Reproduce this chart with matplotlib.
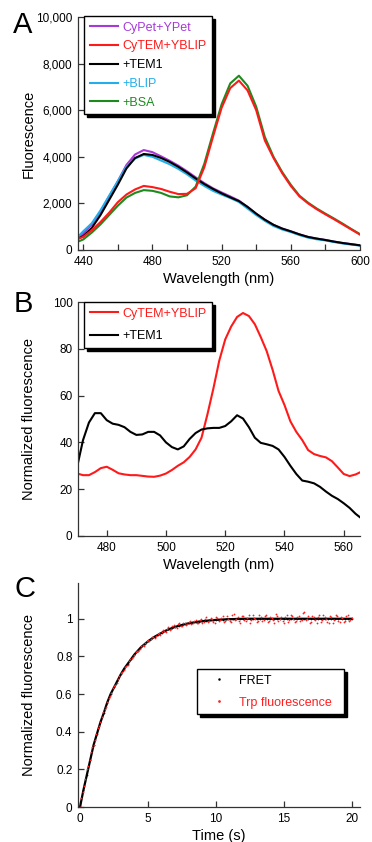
import matplotlib
matplotlib.use("Agg")
import matplotlib.pyplot as plt
import numpy as np
from matplotlib.ticker import FuncFormatter, MultipleLocator

plt.rcParams['font.family'] = ['Liberation Sans', 'DejaVu Sans']

# ---- panel A: emission spectra ----
wl_a = [437, 440, 445, 450, 455, 460, 465, 470, 475, 480, 485, 490, 495, 500,
        505, 510, 515, 520, 525, 530, 535, 540, 545, 550, 555, 560, 565, 570,
        575, 580, 585, 590, 595, 600]
cypet_ypet = [520, 720, 1100, 1650, 2300, 2950, 3650, 4100, 4290, 4200, 4020,
              3830, 3620, 3380, 3120, 2870, 2650, 2470, 2300, 2120, 1850, 1550,
              1300, 1080, 920, 800, 670, 560, 490, 430, 360, 300, 250, 200]
cytem_yblip = [480, 560, 850, 1200, 1600, 2050, 2380, 2600, 2750, 2700, 2620,
               2500, 2400, 2410, 2650, 3550, 4850, 6100, 6950, 7270, 6850, 6000,
               4700, 3950, 3300, 2750, 2300, 2000, 1750, 1530, 1320, 1100, 880, 660]
tem1 = [480, 600, 950, 1500, 2150, 2800, 3500, 3950, 4120, 4080, 3950, 3780,
        3570, 3330, 3070, 2830, 2620, 2430, 2260, 2100, 1850, 1560, 1300, 1080,
        920, 800, 670, 560, 490, 430, 360, 300, 250, 200]
blip = [570, 800, 1150, 1700, 2330, 2950, 3580, 3930, 4080, 4000, 3840, 3680,
        3480, 3250, 2980, 2750, 2540, 2380, 2230, 2060, 1780, 1500, 1250, 1030,
        880, 770, 640, 530, 460, 410, 340, 280, 230, 190]
bsa = [360, 450, 750, 1100, 1500, 1900, 2250, 2450, 2570, 2540, 2450, 2300,
       2260, 2350, 2720, 3700, 5000, 6250, 7150, 7480, 7050, 6150, 4850, 4000,
       3350, 2800, 2330, 2030, 1780, 1560, 1350, 1130, 900, 680]

# ---- panel B: normalized spectra ----
wl_b = [470, 472, 474, 476, 478, 480, 482, 484, 486, 488, 490, 492, 494, 496,
        498, 500, 502, 504, 506, 508, 510, 512, 514, 516, 518, 520, 522, 524,
        526, 528, 530, 532, 534, 536, 538, 540, 542, 544, 546, 548, 550, 552,
        554, 556, 558, 560, 562, 564, 566]
norm_cytem = [26.7, 26.0, 26.0, 27.3, 29.0, 29.6, 28.3, 26.8, 26.3, 26.0, 26.0,
              25.7, 25.4, 25.3, 25.8, 26.7, 28.2, 30.0, 31.5, 33.8, 37.0, 42.0,
              52.0, 63.0, 75.0, 84.0, 89.5, 93.6, 95.3, 94.0, 90.5, 85.0, 79.0,
              71.0, 62.0, 56.0, 49.0, 44.5, 41.0, 36.7, 35.0, 34.2, 33.6, 32.0,
              29.3, 26.5, 25.6, 26.3, 27.5]
norm_tem1 = [29.5, 41.0, 48.5, 52.5, 52.5, 49.5, 48.0, 47.5, 46.5, 44.5, 43.2,
             43.4, 44.5, 44.5, 43.0, 40.0, 38.0, 37.0, 38.3, 41.5, 44.0, 45.5,
             46.0, 46.2, 46.2, 47.0, 49.0, 51.6, 50.2, 46.5, 42.0, 39.8, 39.2,
             38.5, 37.0, 33.8, 30.0, 26.5, 23.7, 23.2, 22.5, 21.0, 19.0, 17.2,
             15.8, 14.0, 12.0, 9.5, 7.5]

# ---- panel C: kinetics ----
t_fret = np.arange(0, 20.01, 0.25)
fret = [0.00, 0.09, 0.17, 0.25, 0.33, 0.39, 0.45, 0.50, 0.555, 0.60, 0.635,
        0.67, 0.705, 0.735, 0.76, 0.785, 0.81, 0.83, 0.85, 0.865, 0.88, 0.893,
        0.905, 0.915, 0.925, 0.935, 0.943, 0.95, 0.957, 0.962, 0.967, 0.972,
        0.976, 0.979, 0.982, 0.985, 0.987, 0.989, 0.991, 0.992, 0.994, 0.995,
        0.996, 0.997, 0.998, 0.998, 0.999, 0.999, 1.0, 1.0, 1.0, 1.0, 1.0, 1.0,
        1.0, 1.0, 1.0, 1.0, 1.0, 1.0, 1.0, 1.0, 1.0, 1.0, 1.0, 1.0, 1.0, 1.0,
        1.0, 1.0, 1.0, 1.0, 1.0, 1.0, 1.0, 1.0, 1.0, 1.0, 1.0, 1.0, 1.0]
t_trp = np.arange(0, 20.01, 0.2)
trp = [0.00, 0.08, 0.15, 0.22, 0.29, 0.33, 0.39, 0.43, 0.48, 0.52, 0.56, 0.59,
       0.63, 0.65, 0.68, 0.71, 0.73, 0.75, 0.775, 0.79, 0.81, 0.83, 0.84, 0.86,
       0.87, 0.885, 0.89, 0.905, 0.91, 0.925, 0.93, 0.935, 0.945, 0.94, 0.96,
       0.955, 0.97, 0.96, 0.975, 0.965, 0.985, 0.97, 0.99, 0.975, 0.995, 0.98,
       1.0, 0.985, 1.005, 0.985, 1.01, 0.99, 1.005, 0.985, 1.015, 0.99, 1.02,
       0.995, 1.01, 0.98, 1.015, 0.99, 1.02, 0.995, 1.005, 0.985, 1.02, 0.99,
       1.015, 0.985, 1.01, 0.995, 1.025, 0.99, 1.01, 0.98, 1.02, 0.995, 1.015,
       0.985, 1.01, 0.99, 1.03, 0.995, 1.015, 0.985, 1.01, 0.975, 1.02, 0.995,
       1.01, 0.985, 1.015, 0.98, 1.02, 0.99, 1.01, 0.985, 1.015, 0.99, 1.005]
t_trp2 = np.arange(0.1, 20.0, 0.2)
trp2 = [0.05, 0.11, 0.20, 0.25, 0.32, 0.355, 0.42, 0.45, 0.505, 0.53, 0.58,
        0.605, 0.645, 0.66, 0.695, 0.715, 0.745, 0.755, 0.785, 0.795, 0.825,
        0.83, 0.855, 0.855, 0.88, 0.88, 0.905, 0.9, 0.92, 0.915, 0.94, 0.93,
        0.955, 0.945, 0.965, 0.95, 0.975, 0.96, 0.98, 0.97, 0.99, 0.975, 0.995,
        0.98, 1.0, 0.985, 1.01, 0.99, 1.0, 0.98, 1.005, 0.995, 1.015, 0.99, 1.0,
        0.985, 1.025, 1.0, 0.99, 1.015, 0.995, 1.005, 0.98, 1.02, 1.0, 0.99,
        1.01, 0.995, 1.02, 0.99, 1.005, 0.975, 1.015, 1.0, 0.99, 1.01, 0.985,
        1.02, 1.0, 0.99, 1.015, 0.995, 1.035, 1.0, 0.98, 1.015, 0.995, 1.01,
        0.985, 1.02, 1.0, 0.975, 1.01, 0.995, 1.015, 0.985, 1.005, 0.99, 1.02,
        0.995]

fig = plt.figure(figsize=(3.72, 8.42), dpi=100)
W, H = 372, 842


def box(l, t, r, b):
    return [l / W, 1 - b / H, (r - l) / W, (b - t) / H]


def style(ax):
    for s in ['top', 'right']:
        ax.spines[s].set_visible(False)
    for s in ['left', 'bottom']:
        ax.spines[s].set_linewidth(0.9)
        ax.spines[s].set_color('#333333')
    ax.tick_params(direction='in', labelsize=8.5, length=4, width=0.9,
                   color='#333333', pad=4)
    ax.tick_params(which='minor', direction='in', length=4, width=0.9,
                   color='#333333')
    ax.yaxis.set_label_coords(-0.15, 0.5)


leg_kw = dict(fancybox=False, edgecolor='black', framealpha=1,
              shadow={'color': 'black', 'alpha': 1}, labelcolor='linecolor',
              fontsize=9, borderpad=0.45, handletextpad=0.3, borderaxespad=0,
              bbox_transform=fig.transFigure, loc='upper left')

# A
ax = fig.add_axes(box(78, 17, 360, 250))
ax.plot(wl_a, cypet_ypet, color='#a63ad6', lw=1.5, label='CyPet+YPet')
ax.plot(wl_a, blip, color='#22aeea', lw=1.5, label='+BLIP')
ax.plot(wl_a, tem1, color='black', lw=1.5, label='+TEM1')
ax.plot(wl_a, bsa, color='#1e8a1e', lw=1.5, label='+BSA')
ax.plot(wl_a, cytem_yblip, color='#ff1a1a', lw=1.5, label='CyTEM+YBLIP')
ax.set_xlim(437, 600)
ax.set_ylim(0, 10000)
ax.xaxis.set_major_locator(MultipleLocator(40))
ax.xaxis.set_minor_locator(MultipleLocator(20))
ax.set_yticks([0, 2000, 4000, 6000, 8000, 10000])
ax.yaxis.set_major_formatter(FuncFormatter(lambda v, p: f'{v:,.0f}'))
ax.set_xlabel('Wavelength (nm)', fontsize=10.5, labelpad=3)
ax.set_ylabel('Fluorescence', fontsize=10.5)
style(ax)
h, l = ax.get_legend_handles_labels()
order = [0, 4, 2, 1, 3]
ax.legend([h[i] for i in order], [l[i] for i in order],
          bbox_to_anchor=(84 / W, 1 - 16 / H), labelspacing=0.54,
          handlelength=2.3, **leg_kw)
fig.text(13 / W, 1 - 33 / H, 'A', fontsize=21)

# B
ax = fig.add_axes(box(78, 302, 360, 536))
ax.plot(wl_b, norm_cytem, color='#ff1a1a', lw=1.5, label='CyTEM+YBLIP')
ax.plot(wl_b, norm_tem1, color='black', lw=1.5, label='+TEM1')
ax.set_xlim(470.3, 565.5)
ax.set_ylim(0, 100)
ax.set_xticks([480, 500, 520, 540, 560])
ax.set_yticks([0, 20, 40, 60, 80, 100])
ax.set_xlabel('Wavelength (nm)', fontsize=10.5, labelpad=3)
ax.set_ylabel('Normalized fluorescence', fontsize=10.5)
style(ax)
ax.legend(bbox_to_anchor=(84 / W, 1 - 302 / H), labelspacing=0.84,
          handlelength=2.3, **leg_kw)
fig.text(14 / W, 1 - 312 / H, 'B', fontsize=21)

# C
ax = fig.add_axes(box(78, 583, 360, 807))
ax.plot(t_fret, fret, color='black', lw=1.6, label='_nolegend_')
ax.plot(t_fret, fret, 'o', color='black', ms=1.2, mew=0, label='FRET')
ax.plot(t_trp, trp, 'o', color='#ff2020', ms=1.3, mew=0,
        label='Trp fluorescence  ')
ax.plot(t_trp2, trp2, 'o', color='#ff2020', ms=1.3, mew=0,
        label='_nolegend_')
ax.set_xlim(-0.15, 20.6)
ax.set_ylim(0, 1.19)
ax.set_xticks([0, 5, 10, 15, 20])
ax.set_yticks([0, 0.2, 0.4, 0.6, 0.8, 1])
ax.yaxis.set_major_formatter(FuncFormatter(lambda v, p: f'{v:g}'))
ax.set_xlabel('Time (s)', fontsize=10.5, labelpad=3)
ax.set_ylabel('Normalized fluorescence', fontsize=10.5)
style(ax)
ax.legend(bbox_to_anchor=(197 / W, 1 - 669 / H), labelspacing=0.8,
          handlelength=2.6, markerscale=1.5, **leg_kw)
fig.text(14 / W, 1 - 597 / H, 'C', fontsize=21)

fig.savefig('out.png', dpi=100)
